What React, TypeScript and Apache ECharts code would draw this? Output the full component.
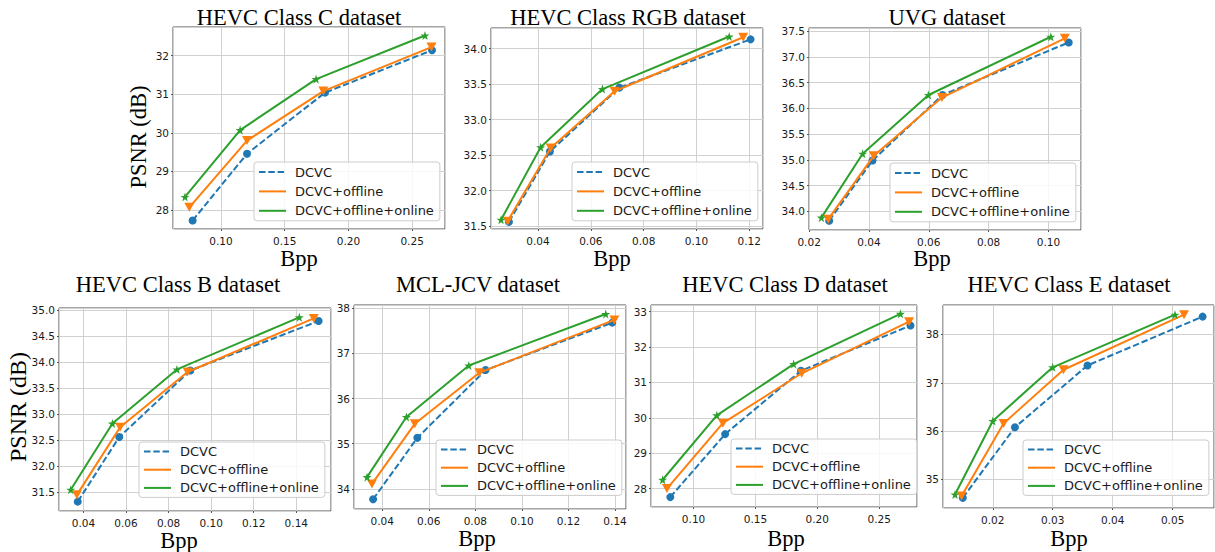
import React, { useEffect, useRef } from "react";
import * as echarts from "echarts";

// ---- Data ----
const titles = [
  "HEVC Class C dataset",
  "HEVC Class RGB dataset",
  "UVG dataset",
  "HEVC Class B dataset",
  "MCL-JCV dataset",
  "HEVC Class D dataset",
  "HEVC Class E dataset",
];
const seriesNames = ["DCVC", "DCVC+offline", "DCVC+offline+online"];

const dcvcBpp = [
  [0.0777, 0.1204, 0.1816, 0.2656],
  [0.029, 0.0445, 0.0708, 0.1205],
  [0.0267, 0.0412, 0.0646, 0.1068],
  [0.0373, 0.0568, 0.0902, 0.1505],
  [0.0361, 0.0551, 0.0844, 0.1388],
  [0.0812, 0.1255, 0.1868, 0.2753],
  [0.015, 0.0237, 0.0358, 0.055],
];
const dcvcPsnr = [
  [27.73, 29.46, 31.04, 32.14],
  [31.56, 32.55, 33.45, 34.13],
  [33.82, 34.99, 36.26, 37.28],
  [31.32, 32.56, 33.84, 34.79],
  [33.77, 35.13, 36.63, 37.68],
  [27.76, 29.54, 31.33, 32.61],
  [34.62, 36.08, 37.36, 38.37],
];
const offlineBpp = [
  [0.0751, 0.1204, 0.1803, 0.2652],
  [0.0285, 0.0448, 0.069, 0.1177],
  [0.0264, 0.0416, 0.0644, 0.1055],
  [0.0369, 0.0572, 0.0889, 0.1482],
  [0.0356, 0.054, 0.0817, 0.1397],
  [0.0785, 0.1237, 0.1874, 0.2742],
  [0.0148, 0.0218, 0.0318, 0.0519],
];
const offlinePsnr = [
  [28.07, 29.8, 31.08, 32.22],
  [31.57, 32.6, 33.4, 34.16],
  [33.85, 35.08, 36.21, 37.36],
  [31.45, 32.75, 33.81, 34.84],
  [34.11, 35.44, 36.57, 37.74],
  [28.0, 29.85, 31.26, 32.72],
  [34.66, 36.16, 37.27, 38.41],
];
const onlineBpp = [
  [0.0717, 0.115, 0.1746, 0.2601],
  [0.026, 0.041, 0.0644, 0.1124],
  [0.0241, 0.0379, 0.0599, 0.1008],
  [0.034, 0.0536, 0.0839, 0.1414],
  [0.0335, 0.0504, 0.0772, 0.136],
  [0.075, 0.1188, 0.1809, 0.2672],
  [0.0137, 0.02, 0.03, 0.0504],
];
const onlinePsnr = [
  [28.34, 30.07, 31.39, 32.52],
  [31.59, 32.61, 33.43, 34.17],
  [33.88, 35.12, 36.26, 37.39],
  [31.55, 32.82, 33.86, 34.86],
  [34.26, 35.59, 36.73, 37.87],
  [28.25, 30.07, 31.52, 32.94],
  [34.69, 36.21, 37.32, 38.41],
];

// axis ranges and tick steps
const xMin = [0.0623, 0.0222, 0.01996, 0.0285, 0.0279, 0.0656, 0.0117];
const xMax = [0.2758, 0.1252, 0.1109, 0.1563, 0.1447, 0.2806, 0.0569];
const xStep = [0.05, 0.02, 0.02, 0.02, 0.02, 0.05, 0.01];
const yMin = [27.51, 31.46, 33.64, 31.14, 33.555, 27.48, 34.41];
const yMax = [32.74, 34.29, 37.56, 35.04, 38.07, 33.19, 38.61];
const yStep = [1, 0.5, 0.5, 0.5, 1, 1, 1];

// ---- Layout ----
const gridBoxes = [
  { left: 173, top: 27, width: 272, height: 202 },
  { left: 491, top: 28, width: 272, height: 201 },
  { left: 809, top: 28, width: 272, height: 202 },
  { left: 59, top: 308, width: 272, height: 203 },
  { left: 354, top: 305, width: 272, height: 204 },
  { left: 651, top: 305, width: 266, height: 202 },
  { left: 943, top: 305, width: 271, height: 203 },
];
const legendPos = [
  { left: 254, top: 162 },
  { left: 572, top: 162 },
  { left: 890, top: 163 },
  { left: 139, top: 442 },
  { left: 436, top: 440 },
  { left: 731, top: 439 },
  { left: 1023, top: 440 },
];
const titlePos = [
  [299, 17], [628, 17], [947, 17], [178, 284], [478, 284], [785, 284], [1069, 284],
];
const bppPos = [
  [299, 258], [612, 258], [932, 258], [179, 540], [477, 538.5], [786, 538.5], [1069, 538.5],
];

const COLORS = ["#1f77b4", "#ff7f0e", "#2ca02c"];
const STAR =
  "path://M50,0 L61.8,35.1 L98.1,35.1 L68.8,56.7 L79.4,91 L50,70 L20.6,91 L31.2,56.7 L1.9,35.1 L38.2,35.1 Z";

const decimals = (step: number) => (step >= 1 ? 0 : step >= 0.1 ? 1 : 2);

function buildOption() {
  const grid: any[] = [];
  const xAxis: any[] = [];
  const yAxis: any[] = [];
  const series: any[] = [];
  const legend: any[] = [];
  const graphic: any[] = [];

  const labelStyle = { fontFamily: "DejaVu Sans", fontSize: 10.5, color: "#1a1a1a" };

  titles.forEach((t, i) => {
    grid.push({
      ...gridBoxes[i],
      show: true,
      borderColor: "#4d4d4d",
      borderWidth: 1,
      backgroundColor: "transparent",
      containLabel: false,
      outerBoundsMode: "none",
    });
    const xd = decimals(xStep[i]);
    const yd = decimals(yStep[i]);
    xAxis.push({
      type: "value",
      gridIndex: i,
      min: xMin[i],
      max: xMax[i],
      minInterval: xStep[i],
      maxInterval: xStep[i],
      splitNumber: 6,
      axisLine: { show: false },
      axisTick: { show: true, length: 2, lineStyle: { color: "#555" } },
      axisLabel: {
        ...labelStyle,
        margin: 6,
        showMinLabel: false,
        showMaxLabel: false,
        formatter: (v: number) => v.toFixed(xd),
      },
      splitLine: { show: true, lineStyle: { color: "#d0d0d0", width: 1 } },
    });
    yAxis.push({
      type: "value",
      gridIndex: i,
      min: yMin[i],
      max: yMax[i],
      minInterval: yStep[i],
      maxInterval: yStep[i],
      splitNumber: 6,
      axisLine: { show: false },
      axisTick: { show: true, length: 2, lineStyle: { color: "#555" } },
      axisLabel: {
        ...labelStyle,
        margin: 4,
        showMinLabel: false,
        showMaxLabel: false,
        formatter: (v: number) => v.toFixed(yd),
      },
      splitLine: { show: true, lineStyle: { color: "#d0d0d0", width: 1 } },
    });

    const sets = [
      [dcvcBpp[i], dcvcPsnr[i]],
      [offlineBpp[i], offlinePsnr[i]],
      [onlineBpp[i], onlinePsnr[i]],
    ];
    sets.forEach(([xs, ys], k) => {
      series.push({
        type: "line",
        name: seriesNames[k],
        xAxisIndex: i,
        yAxisIndex: i,
        data: xs.map((x, j) => [x, ys[j]]),
        symbol: k === 0 ? "circle" : k === 1 ? "triangle" : STAR,
        symbolRotate: k === 1 ? 180 : 0,
        symbolSize: k === 0 ? 8 : k === 1 ? [10, 9] : 9,
        showSymbol: true,
        lineStyle: {
          color: COLORS[k],
          width: 2,
          type: k === 0 ? [6.5, 2.8] : "solid",
        },
        itemStyle: { color: COLORS[k] },
        emphasis: { disabled: true },
        z: 2 + k,
      });
    });

    const bottom = i >= 3;
    legend.push({
      orient: "vertical",
      left: legendPos[i].left,
      top: legendPos[i].top,
      padding: bottom ? [3, 6, 3, 4] : [3.5, 6, 3.5, 4],
      itemWidth: 27,
      itemHeight: 14,
      itemGap: bottom ? 5.2 : 6.4,
      backgroundColor: "rgba(255,255,255,0.85)",
      borderColor: "#cccccc",
      borderWidth: 1,
      borderRadius: 3,
      textStyle: {
        fontFamily: "DejaVu Sans",
        fontSize: 13,
        color: "#1a1a1a",
        padding: [0, 0, 0, 4],
      },
      itemStyle: { opacity: 0 },
      lineStyle: { width: 2 },
      selectedMode: false,
      data: seriesNames,
      z: 10,
    });

    graphic.push({
      type: "text",
      x: titlePos[i][0],
      y: titlePos[i][1],
      style: {
        text: t,
        fontFamily: "Liberation Serif",
        fontSize: 22.5,
        fill: "#000",
        align: "center",
        verticalAlign: "middle",
        textAlign: "center",
        textVerticalAlign: "middle",
      },
    });
    graphic.push({
      type: "text",
      x: bppPos[i][0],
      y: bppPos[i][1],
      style: {
        text: "Bpp",
        fontFamily: "Liberation Serif",
        fontSize: 22.5,
        fill: "#000",
        align: "center",
        verticalAlign: "middle",
        textAlign: "center",
        textVerticalAlign: "middle",
      },
    });
  });

  // y axis names (only first plot of each row)
  const psnr = [
    { x: 138, y: 137, size: 22.5 },
    { x: 17.5, y: 407, size: 24 },
  ];
  psnr.forEach((p) => {
    graphic.push({
      type: "text",
      x: p.x,
      y: p.y,
      rotation: Math.PI / 2,
      style: {
        text: "PSNR (dB)",
        fontFamily: "Liberation Serif",
        fontSize: p.size,
        fill: "#000",
        align: "center",
        verticalAlign: "middle",
        textAlign: "center",
        textVerticalAlign: "middle",
      },
    });
  });

  return {
    animation: false,
    backgroundColor: "#ffffff",
    grid,
    xAxis,
    yAxis,
    series,
    legend,
    graphic,
  };
}

export default function App() {
  const ref = useRef<HTMLDivElement>(null);
  useEffect(() => {
    if (!ref.current) return;
    const chart = echarts.init(ref.current, undefined, { renderer: "svg" });
    chart.setOption(buildOption() as any);
    return () => {
      chart.dispose();
    };
  }, []);
  return (
    <div
      ref={ref}
      style={{ position: "absolute", left: 0, top: 0, width: 1215, height: 552 }}
    />
  );
}
